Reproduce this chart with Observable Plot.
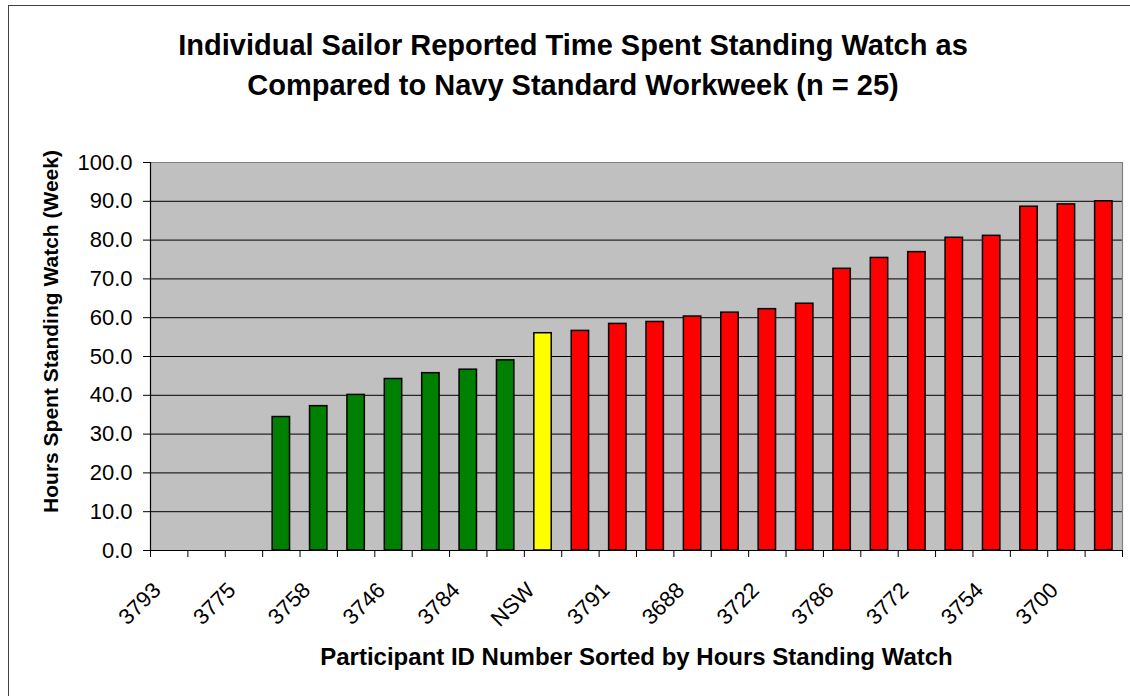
<!DOCTYPE html>
<html><head><meta charset="utf-8">
<script src="https://cdn.jsdelivr.net/npm/d3@7"></script>
<script src="https://cdn.jsdelivr.net/npm/@observablehq/plot@0.6"></script>
<style>
html,body{margin:0;padding:0;background:#fff;}
body{width:1130px;height:696px;position:relative;overflow:hidden;font-family:"Liberation Sans",Arial,sans-serif;}
#border{position:absolute;left:8px;top:5px;width:1200px;height:800px;border-top:1px solid #404040;border-left:1px solid #404040;}
#title{position:absolute;left:8px;top:25px;width:1130px;text-align:center;font-weight:bold;font-size:29px;line-height:40px;color:#000;white-space:nowrap;}
#chart{position:absolute;left:0;top:118px;}
</style></head>
<body>
<div id="border"></div>
<div id="title">Individual Sailor Reported Time Spent Standing Watch as<br>Compared to Navy Standard Workweek (n = 25)</div>
<div id="chart"></div>
<script>
// Participant IDs in sorted order (only every other label is printed in the source)
const participantIds = ["3793", null, "3775", null, "3758", null, "3746", null, "3784", null,
  "NSW", null, "3791", null, "3688", null, "3722", null, "3786", null,
  "3772", null, "3754", null, "3700", null];
// Hours spent standing watch per week
const hours = [0, 0, 0, 34.4, 37.2, 40.1, 44.2, 45.7, 46.6, 49.0,
  56.0, 56.6, 58.4, 58.9, 60.3, 61.3, 62.2, 63.6, 72.6, 75.4,
  76.9, 80.6, 81.1, 88.6, 89.2, 90.0];
// Group relative to Navy Standard Workweek
const groups = ["below", "below", "below", "below", "below", "below", "below", "below", "below", "below",
  "nsw", "above", "above", "above", "above", "above", "above", "above", "above", "above",
  "above", "above", "above", "above", "above", "above"];
const groupNames = ["below", "nsw", "above"];
const groupColors = ["#008000", "#FFFF00", "#FF0000"];
const yTicks = [0, 10, 20, 30, 40, 50, 60, 70, 80, 90, 100];
const yGrid = [10, 20, 30, 40, 50, 60, 70, 80, 90];

const data = hours.map((h, i) => ({i, hours: h, group: groups[i], id: participantIds[i]}));
const boundaries = d3.range(hours.length + 1);
const labelPos = data.filter(d => d.id != null).map(d => d.i + 0.5);

const chart = Plot.plot({
  width: 1130,
  height: 578,
  marginTop: 44,
  marginBottom: 146,
  marginLeft: 150,
  marginRight: 8,
  style: {background: "transparent", fontFamily: "'Liberation Sans', Arial, sans-serif", fontSize: "22px", color: "#000", overflow: "visible"},
  x: {domain: [0, hours.length], axis: null},
  y: {domain: [0, 100], axis: null},
  color: {domain: groupNames, range: groupColors},
  marks: [
    Plot.frame({fill: "#C0C0C0", stroke: null}),
    Plot.ruleY(yGrid, {stroke: "#000", strokeWidth: 1}),
    Plot.rectY(data, {x: "i", interval: 1, y: "hours", fill: "group", stroke: "#000", strokeWidth: 1.5, insetLeft: 10, insetRight: 10}),
    Plot.ruleY([100], {stroke: "#808080", strokeWidth: 1.2}),
    Plot.ruleX([hours.length], {stroke: "#808080", strokeWidth: 1.2}),
    Plot.ruleX([0], {stroke: "#000", strokeWidth: 1.2}),
    Plot.ruleY([0], {stroke: "#000", strokeWidth: 1.2}),
    Plot.axisY({ticks: yTicks, tickFormat: d => d.toFixed(1), tickSize: 7, tickPadding: 11, label: null, fontSize: 22}),
    Plot.axisX({ticks: boundaries, tickFormat: () => "", tickSize: 7, label: null}),
    Plot.axisX({ticks: labelPos, tickFormat: v => participantIds[Math.round(v - 0.5)], tickSize: 0, tickPadding: 36, tickRotate: -45, dx: -12, label: null, fontSize: 22}),
    Plot.text(["Participant ID Number Sorted by Hours Standing Watch"], {frameAnchor: "bottom", textAnchor: "middle", lineAnchor: "bottom", dy: 114, fontSize: 24, fontWeight: "bold"}),
    Plot.text(["Hours Spent Standing Watch (Week)"], {frameAnchor: "left", textAnchor: "middle", lineAnchor: "bottom", rotate: -90, dx: -93, dy: -25, fontSize: 21, fontWeight: "bold"})
  ]
});
document.getElementById("chart").appendChild(chart);
</script>
</body></html>
